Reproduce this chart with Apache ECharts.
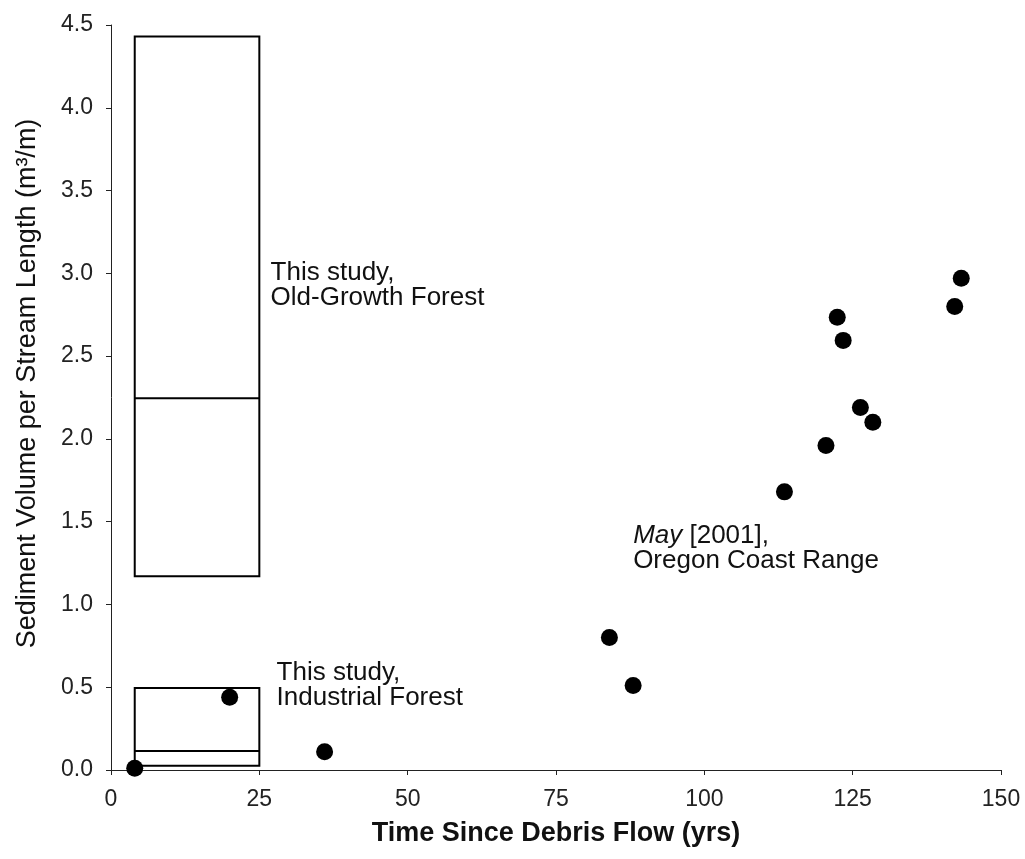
<!DOCTYPE html>
<html>
<head>
<meta charset="utf-8">
<script src="https://cdn.jsdelivr.net/npm/echarts@6/dist/echarts.min.js"></script>
<style>html,body{margin:0;padding:0;background:#fff;}#c{width:1025px;height:859px;}</style>
</head>
<body>
<div id="c"></div>
<script>
// Boxes: [xStart, xEnd, low, median, high]
const boxOldGrowth = [4, 25, 1.17, 2.245, 4.43];
const boxIndustrial = [4, 25, 0.025, 0.115, 0.495];

// Scatter points
const pointX = [4, 20, 36, 84, 88, 113.5, 120.5, 122.4, 123.4, 126.3, 128.4, 142.2, 143.3];
const pointY = [0.01, 0.44, 0.11, 0.80, 0.51, 1.68, 1.96, 2.735, 2.595, 2.19, 2.10, 2.80, 2.97];

// Annotations
const noteX = [26.9, 27.9, 88.0];
const noteY = [2.925, 0.514, 1.34];
const noteText = [
  'This study,\nOld-Growth Forest',
  'This study,\nIndustrial Forest',
  '{it|May} [2001],\nOregon Coast Range'
];

const xTicks = [0, 25, 50, 75, 100, 125, 150];
const yTicks = [0, 0.5, 1.0, 1.5, 2.0, 2.5, 3.0, 3.5, 4.0, 4.5];

const FONT = 'Liberation Sans, Arial, sans-serif';

const chart = echarts.init(document.getElementById('c'), null, {renderer: 'canvas'});

const boxes = [boxOldGrowth, boxIndustrial];

chart.setOption({
  backgroundColor: '#ffffff',
  animation: false,
  grid: {left: 111, right: 24, top: 25, bottom: 89, containLabel: false, outerBoundsMode: 'none'},
  xAxis: {
    type: 'value', min: 0, max: 150, interval: 25,
    name: 'Time Since Debris Flow (yrs)',
    nameLocation: 'middle', nameGap: 50,
    nameTextStyle: {fontFamily: FONT, fontSize: 27, color: '#111', fontWeight: 'bold'},
    axisLine: {show: true, lineStyle: {color: '#222', width: 1}},
    axisTick: {show: true, inside: false, length: 5, lineStyle: {color: '#222'}},
    axisLabel: {fontFamily: FONT, fontSize: 23, color: '#222', margin: 18,
      formatter: v => xTicks.includes(v) ? String(v) : ''},
    splitLine: {show: false}
  },
  yAxis: {
    type: 'value', min: 0, max: 4.5, interval: 0.5,
    name: 'Sediment Volume per Stream Length (m³/m)',
    nameLocation: 'middle', nameGap: 70, nameRotate: 90,
    nameTextStyle: {fontFamily: FONT, fontSize: 27, color: '#111', padding: [0, 0, 0, 28]},
    axisLine: {show: true, lineStyle: {color: '#222', width: 1}},
    axisTick: {show: true, inside: false, length: 5, lineStyle: {color: '#222'}},
    axisLabel: {fontFamily: FONT, fontSize: 23, color: '#222', margin: 18,
      formatter: v => yTicks.some(t => Math.abs(t - v) < 1e-9) ? v.toFixed(1) : ''},
    splitLine: {show: false}
  },
  series: [
    {
      type: 'custom',
      data: boxes,
      z: 2,
      renderItem: function (params, api) {
        const x0 = api.value(0), x1 = api.value(1);
        const lo = api.value(2), md = api.value(3), hi = api.value(4);
        const p0 = api.coord([x0, hi]);
        const p1 = api.coord([x1, lo]);
        const m0 = api.coord([x0, md]);
        const m1 = api.coord([x1, md]);
        return {
          type: 'group',
          children: [
            {type: 'rect', shape: {x: p0[0], y: p0[1], width: p1[0] - p0[0], height: p1[1] - p0[1]},
              style: {fill: 'none', stroke: '#000', lineWidth: 2}},
            {type: 'line', shape: {x1: m0[0], y1: m0[1], x2: m1[0], y2: m1[1]},
              style: {stroke: '#000', lineWidth: 2}}
          ]
        };
      }
    },
    {
      type: 'scatter',
      data: pointX.map((x, i) => [x, pointY[i]]),
      symbol: 'circle', symbolSize: 17,
      itemStyle: {color: '#000', opacity: 1},
      z: 3
    },
    {
      type: 'custom',
      data: noteX.map((x, i) => [x, noteY[i], i]),
      z: 4,
      renderItem: function (params, api) {
        const p = api.coord([api.value(0), api.value(1)]);
        const idx = api.value(2);
        return {
          type: 'text',
          x: p[0], y: p[1],
          style: {
            text: noteText[idx],
            fontFamily: FONT, fontSize: 26, lineHeight: 25,
            fill: '#111', align: 'left', verticalAlign: 'middle',
            rich: {it: {fontStyle: 'italic', fontFamily: FONT, fontSize: 26, lineHeight: 25, fill: '#111'}}
          }
        };
      }
    }
  ]
});
</script>
</body>
</html>
